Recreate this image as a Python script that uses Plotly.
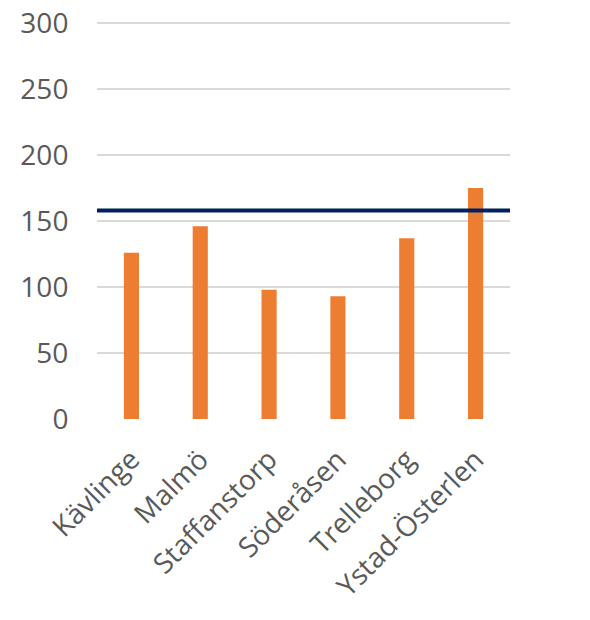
import plotly.graph_objects as go

categories = ["Kävlinge", "Malmö", "Staffanstorp", "Söderåsen", "Trelleborg", "Ystad-Österlen"]
values = [126, 146, 98, 93, 137, 175]
reference_value = 158
y_ticks = [0, 50, 100, 150, 200, 250, 300]

fig = go.Figure()
fig.add_trace(go.Bar(
    x=categories, y=values,
    marker=dict(color="#ED7D31", line=dict(width=0)),
    width=0.22,
))
fig.add_hline(y=reference_value, line=dict(color="#002060", width=4), layer="above")

font_family = "Open Sans, Liberation Sans, sans-serif"
fig.update_layout(
    width=590, height=620,
    margin=dict(l=89, r=88, t=14, b=209),
    paper_bgcolor="white", plot_bgcolor="white",
    showlegend=False,
    font=dict(family=font_family, color="#595959", size=28),
    xaxis=dict(
        tickangle=-45,
        tickfont=dict(size=28, color="#595959"),
        showgrid=False, showline=False, zeroline=False,
        ticks="outside", ticklen=12, tickcolor="rgba(0,0,0,0)",
        automargin=False, ticklabeloverflow="allow",
    ),
    yaxis=dict(
        range=[0, 300.8], tickvals=y_ticks,
        tickfont=dict(size=28, color="#595959"),
        showgrid=True, gridcolor="#D9D9D9", gridwidth=1.5,
        zeroline=False, showline=False,
        ticks="outside", ticklen=22, tickcolor="rgba(0,0,0,0)",
        automargin=False, ticklabeloverflow="allow",
    ),
)
fig.write_html("out.html")
